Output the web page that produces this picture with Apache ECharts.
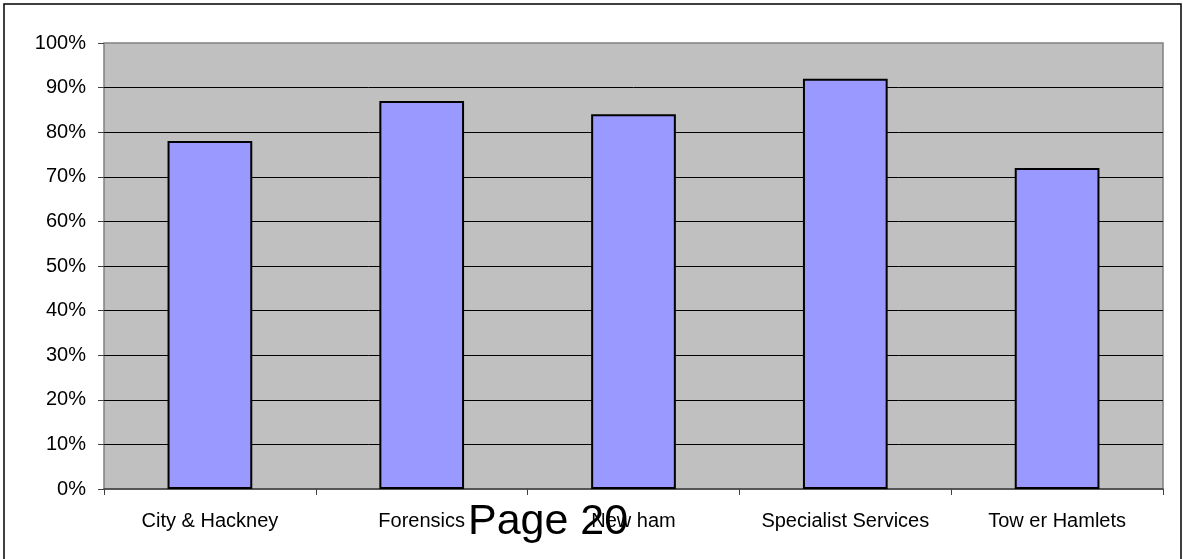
<!DOCTYPE html>
<html>
<head>
<meta charset="utf-8">
<style>
  html, body { margin: 0; padding: 0; background: #ffffff; }
  #chart { width: 1183px; height: 559px; }
</style>
<script src="https://cdn.jsdelivr.net/npm/echarts@6/dist/echarts.min.js"></script>
</head>
<body>
<div id="chart"></div>
<script>
// Share of responses per service area
const categories = ['City & Hackney', 'Forensics', 'New ham', 'Specialist Services', 'Tow er Hamlets'];
const values = [78, 87, 84, 92, 72];
const yTicks = { min: 0, max: 100, interval: 10 };
const pageLabel = 'Page 20';

const chart = echarts.init(document.getElementById('chart'), null, { renderer: 'canvas' });

chart.setOption({
  animation: false,
  backgroundColor: '#ffffff',
  grid: {
    left: 104, top: 43, right: 20, bottom: 70,
    show: true,
    backgroundColor: '#c0c0c0',
    borderColor: '#808080',
    borderWidth: 1.5
  },
  xAxis: {
    type: 'category',
    data: categories,
    boundaryGap: true,
    axisLine: { lineStyle: { color: '#404040', width: 1.5 } },
    axisTick: { show: true, length: 6, lineStyle: { color: '#404040' } },
    axisLabel: {
      color: '#000000',
      fontFamily: 'Liberation Sans, Arial, sans-serif',
      fontSize: 20,
      margin: 22,
      interval: 0
    },
    splitLine: { show: false }
  },
  yAxis: {
    type: 'value',
    min: yTicks.min,
    max: yTicks.max,
    interval: yTicks.interval,
    axisLine: { show: false },
    axisTick: { show: true, length: 6, lineStyle: { color: '#404040' } },
    axisLabel: {
      formatter: '{value}%',
      color: '#000000',
      fontFamily: 'Liberation Sans, Arial, sans-serif',
      fontSize: 20,
      margin: 18
    },
    splitLine: {
      show: true,
      showMinLine: false,
      showMaxLine: false,
      lineStyle: { color: '#000000', width: 1 }
    }
  },
  series: [{
    type: 'bar',
    data: values,
    barCategoryGap: '60%',
    itemStyle: {
      color: '#9999ff',
      borderColor: '#000000',
      borderWidth: 2
    }
  }],
  graphic: [
    {
      type: 'rect',
      silent: true,
      shape: { x: 4, y: 4, width: 1177, height: 600 },
      style: { fill: 'none', stroke: '#000000', lineWidth: 1.5 }
    },
    {
      type: 'text',
      silent: true,
      left: 468,
      top: 501,
      style: {
        text: pageLabel,
        fill: '#000000',
        font: '43px "Liberation Sans", Arial, sans-serif'
      }
    }
  ]
});
</script>
</body>
</html>
